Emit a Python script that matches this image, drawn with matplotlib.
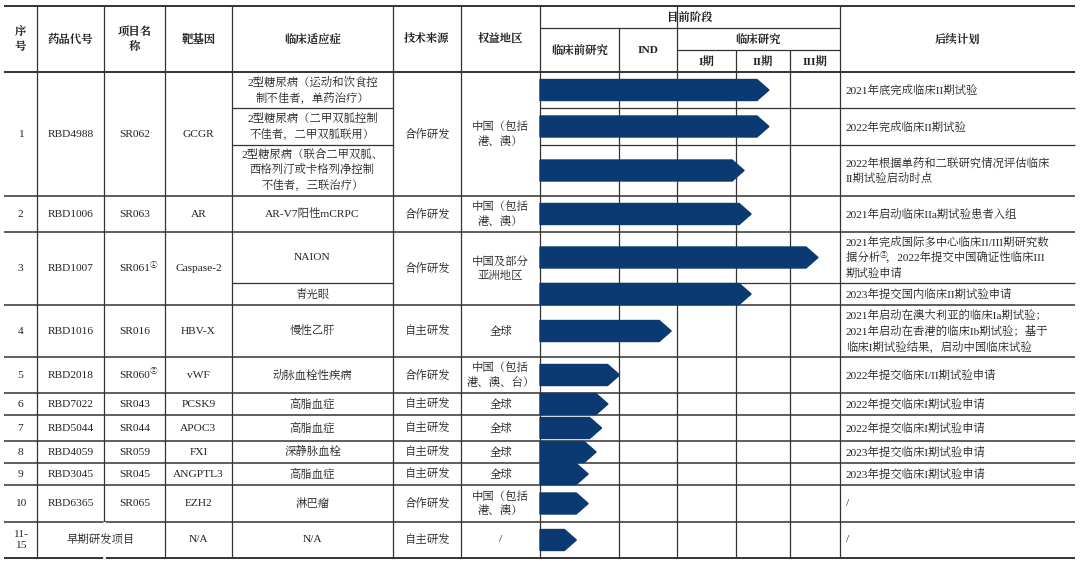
import numpy as np
import matplotlib.pyplot as plt
from matplotlib.patches import Polygon

plt.rcParams['font.family'] = ['Liberation Serif', 'Noto Serif CJK SC', 'Noto Sans CJK SC', 'DejaVu Sans']

# --- data ---
seq = ['1', '2', '3', '4', '5', '6', '7', '8', '9', '10', '11-\n15']
drug_code = ['RBD4988', 'RBD1006', 'RBD1007', 'RBD1016', 'RBD2018', 'RBD7022',
             'RBD5044', 'RBD4059', 'RBD3045', 'RBD6365', '早期研发项目']
project = ['SR062', 'SR063', 'SR061', 'SR016', 'SR060', 'SR043', 'SR044',
           'SR059', 'SR045', 'SR065', '']
project_note = ['', '', '①', '', '②', '', '', '', '', '', '']
target = ['GCGR', 'AR', 'Caspase-2', 'HBV-X', 'vWF', 'PCSK9', 'APOC3', 'FXI',
          'ANGPTL3', 'EZH2', 'N/A']
tech = ['合作研发', '合作研发', '合作研发', '自主研发', '合作研发', '自主研发',
        '自主研发', '自主研发', '自主研发', '合作研发', '自主研发']
region = ['中国（包括\n港、澳）', '中国（包括\n港、澳）', '中国及部分\n亚洲地区', '全球',
          '中国（包括\n港、澳、台）', '全球', '全球', '全球', '全球',
          '中国（包括\n港、澳）', '/']
# sub-rows (indications) with owning project index
sub_owner = [0, 0, 0, 1, 2, 2, 3, 4, 5, 6, 7, 8, 9, 10]
indication = ['2型糖尿病（运动和饮食控\n制不佳者，单药治疗）',
              '2型糖尿病（二甲双胍控制\n不佳者，二甲双胍联用）',
              '2型糖尿病（联合二甲双胍、\n西格列汀或卡格列净控制\n不佳者，三联治疗）',
              'AR-V7阳性mCRPC', 'NAION', '青光眼', '慢性乙肝', '动脉血栓性疾病',
              '高脂血症', '高脂血症', '深静脉血栓', '高脂血症', '淋巴瘤', 'N/A']
# progress in stage units (0=start preclinical, 1=IND, 2=I, 3=II, 4=III, 5=end)
progress = [3.61, 3.61, 3.15, 3.28, 4.56, 3.28, 1.90, 1.01, 0.86, 0.78, 0.71,
            0.61, 0.61, 0.46]
plan = ['2021年底完成临床II期试验', '2022年完成临床II期试验',
        '2022年根据单药和二联研究情况评估临床\nII期试验启动时点',
        '2021年启动临床IIa期试验患者入组',
        '2021年完成国际多中心临床II/III期研究数\n据分析  ，2022年提交中国确证性临床III\n期试验申请',
        '2023年提交国内临床II期试验申请',
        '2021年启动在澳大利亚的临床Ia期试验；\n2021年启动在香港的临床Ib期试验；基于\n临床I期试验结果，启动中国临床试验',
        '2022年提交临床I/II期试验申请', '2022年提交临床I期试验申请',
        '2022年提交临床I期试验申请', '2023年提交临床I期试验申请',
        '2023年提交临床I期试验申请', '/', '/']

# --- layout (pixels) ---
cols = [4, 37, 104, 165, 232, 393, 461, 540, 619, 677, 736, 790, 840, 1075]
sub_y = [72, 108, 145, 196, 232, 283, 305, 357, 393, 415, 441, 463, 485, 522, 558]
stage_x = cols[7:13]
color = '#0b3a73'
fs = 8.2

fig = plt.figure(figsize=(10.8, 5.61), dpi=100)
ax = fig.add_axes([0, 0, 1, 1])
ax.set_xlim(0, 1080)
ax.set_ylim(561, 0)
ax.axis('off')


def line(x0, x1, y0, y1, lw=0.9):
    ax.plot([x0, x1], [y0, y1], color='#333333', lw=lw, solid_capstyle='butt')


def txt(x, y, s, bold=False, size=fs, ha='center'):
    ax.text(x, y, s, ha=ha, va='center', fontsize=size,
            fontweight='bold' if bold else 'normal', color='#222222', linespacing=1.4)


def mid(a, b):
    return (a + b) / 2

# header
top, hb = 6, 72
line(cols[0], cols[-1], top, top, 1.4)
line(cols[0], cols[-1], hb, hb, 1.4)
line(cols[7], cols[12], 28, 28)
line(cols[9], cols[12], 50, 50)
heads = ['序\n号', '药品代号', '项目名\n称', '靶基因', '临床适应症', '技术来源', '权益地区']
for i, h in enumerate(heads):
    txt(mid(cols[i], cols[i + 1]), mid(top, hb), h, bold=True)
txt(mid(cols[7], cols[12]), 17, '目前阶段', bold=True)
txt(mid(cols[7], cols[8]), 50, '临床前研究', bold=True)
txt(mid(cols[8], cols[9]), 50, 'IND', bold=True)
txt(mid(cols[9], cols[12]), 39, '临床研究', bold=True)
for i, h in enumerate(['I期', 'II期', 'III期']):
    txt(mid(cols[9 + i], cols[10 + i]), 61, h, bold=True)
txt(mid(cols[12], cols[13]), 39, '后续计划', bold=True)

# vertical lines
for i, x in enumerate(cols[1:-1], start=1):
    if i in (8,):
        y0 = 28
    elif i in (10, 11):
        y0 = 50
    else:
        y0 = top
    line(x, x, y0, sub_y[-1])

# rows
n = len(seq)
row_top = [sub_y[sub_owner.index(r)] for r in range(n)]
row_bot = [sub_y[len(sub_owner) - sub_owner[::-1].index(r)] for r in range(n)]
for r in range(n):
    ym = mid(row_top[r], row_bot[r])
    line(cols[0], cols[-1], row_bot[r], row_bot[r], 1.4 if r == n - 1 else 1.1)
    txt(mid(cols[0], cols[1]), ym, seq[r])
    if r == n - 1:
        txt(mid(cols[1], cols[3]), ym, drug_code[r])
        # hide merged border
        ax.plot([cols[2], cols[2]], [row_top[r] + 1, row_bot[r] - 1], color='white', lw=2)
    else:
        txt(mid(cols[1], cols[2]), ym, drug_code[r])
        txt(mid(cols[2], cols[3]), ym, project[r])
        if project_note[r]:
            ax.text(mid(cols[2], cols[3]) + 19, ym - 4, project_note[r], fontsize=5.5,
                    ha='center', va='center', color='#222222')
    txt(mid(cols[3], cols[4]), ym, target[r])
    txt(mid(cols[5], cols[6]), ym, tech[r])
    txt(mid(cols[6], cols[7]), ym, region[r])

# sub-rows
for k in range(len(sub_owner)):
    y0, y1 = sub_y[k], sub_y[k + 1]
    ym = mid(y0, y1)
    if k + 1 < len(sub_owner) and sub_owner[k + 1] == sub_owner[k]:
        line(cols[4], cols[5], y1, y1)
        line(cols[7], cols[13], y1, y1)
    txt(mid(cols[4], cols[5]), ym, indication[k])
    txt(cols[12] + 6, ym, plan[k], ha='left')
    xe = np.interp(progress[k], np.arange(len(stage_x)), stage_x)
    h, head = 10.5, 12
    xs = cols[7]
    poly = Polygon([(xs, ym - h), (xe - head, ym - h), (xe, ym), (xe - head, ym + h),
                    (xs, ym + h)], closed=True, color=color, zorder=3)
    ax.add_patch(poly)

ax.text(cols[12] + 6 + 38, mid(sub_y[4], sub_y[5]) - 3, '②', fontsize=5.5, ha='center',
        va='center', color='#222222')

fig.savefig('out.png', dpi=100)
